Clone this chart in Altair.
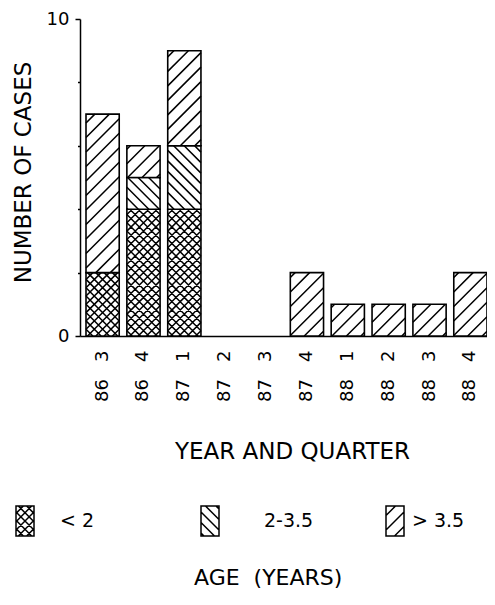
import math
import altair as alt
import pandas as pd

# ---- data ----
quarters = ["86 3", "86 4", "87 1", "87 2", "87 3", "87 4", "88 1", "88 2", "88 3", "88 4"]
age_groups = ["< 2", "2-3.5", "> 3.5"]
under_2 = [2, 4, 4, 0, 0, 0, 0, 0, 0, 0]
age_2_to_35 = [0, 1, 2, 0, 0, 0, 0, 0, 0, 0]
over_35 = [5, 1, 3, 0, 0, 2, 1, 1, 1, 2]
y_max = 10

# ---- layout / style ----
FONT = "DejaVu Sans"
NB = "\u00a0"
PLOT_W, PLOT_H = 407, 317
PAD_IN = 0.187
LEFT_GAP = 6.0
step = (PLOT_W - LEFT_GAP) / (len(quarters) - PAD_IN)
PAD_OUT = (LEFT_GAP / 2) / step
bar_w = step * (1 - PAD_IN)
unit_h = PLOT_H / y_max

# hatch styles: (horizontal period px, direction +1 "/" , -1 "\")
hatch_style = {
    "< 2": [(8.3, 1), (8.3, -1)],
    "2-3.5": [(10.5, -1)],
    "> 3.5": [(14.5, 1)],
}


def hatch_path(w, h, group, R, outline=False):
    parts = []
    for period, d in hatch_style[group]:
        half = (w + h) / 2
        k0 = math.floor(-half / period) - 1
        k1 = math.ceil(half / period) + 1
        for k in range(k0, k1 + 1):
            c = k * period
            lo = max(-w / 2, c - h / 2)
            hi = min(w / 2, c + h / 2)
            if hi - lo < 0.6:
                continue
            if d > 0:
                p1, p2 = (lo, c - lo), (hi, c - hi)
            else:
                p1, p2 = (lo, lo - c), (hi, hi - c)
            parts.append("M%.4f,%.4fL%.4f,%.4f" % (p1[0] / R, p1[1] / R, p2[0] / R, p2[1] / R))
    if outline:
        a, b = w / 2 / R, h / 2 / R
        parts.append("M%.4f,%.4fL%.4f,%.4fL%.4f,%.4fL%.4f,%.4fZ" % (-a, -b, a, -b, a, b, -a, b))
    return "".join(parts)


# ---- derived segment table ----
counts = {"< 2": under_2, "2-3.5": age_2_to_35, "> 3.5": over_35}
rows = []
for i, q in enumerate(quarters):
    base = 0
    for g in age_groups:
        n = counts[g][i]
        if n > 0:
            rows.append({"q": q, "group": g, "y0": base, "y1": base + n,
                         "yc": base + n / 2, "key": "%s|%d" % (g, n), "n": n})
        base += n
seg = pd.DataFrame(rows)

R_CELL = 80
keys = sorted(set(seg["key"]))
cell_paths = []
for k in keys:
    g, n = k.split("|")
    cell_paths.append(hatch_path(bar_w, int(n) * unit_h, g, R_CELL))

x_scale = alt.Scale(domain=quarters, paddingInner=PAD_IN, paddingOuter=PAD_OUT, align=1)

x_enc = alt.X(
    "q:N", sort=quarters, scale=x_scale,
    axis=alt.Axis(
        title="YEAR AND QUARTER", labelAngle=-90, labelAlign="right", labelBaseline="middle",
        labelExpr="replace(datum.label, ' ', '%s')" % (NB * 3),
        labelPadding=14, ticks=False, tickSize=0, domainColor="black", domainWidth=1.5,
        labelFontSize=18, labelColor="black", titleFontSize=23, titleFontWeight="normal",
        titleColor="black", titlePadding=39, titleX=212, labelFont=FONT, titleFont=FONT,
    ),
)

y_axis = alt.Axis(
    title="NUMBER OF CASES", values=list(range(0, y_max + 1)),
    labelExpr="datum.value % 5 === 0 ? datum.label : ''",
    tickSize={"condition": {"test": "datum.value % 5 === 0", "value": 5}, "value": 2.5},
    tickColor="black", tickWidth=1.5, domainColor="black", domainWidth=1.5, grid=False,
    labelFlush=False, labelFontSize=18, labelColor="black", labelPadding=6,
    titleFontSize=23, titleFontWeight="normal", titleColor="black", titlePadding=11,
    titleY=153, labelFont=FONT, titleFont=FONT,
)

bars = alt.Chart(seg).mark_bar(fill="white", stroke="black", strokeWidth=1.6, opacity=1).encode(
    x=x_enc,
    y=alt.Y("y1:Q", scale=alt.Scale(domain=[0, y_max], nice=False), axis=y_axis),
    y2="y0:Q",
)

hatch = alt.Chart(seg).mark_point(
    filled=False, color="black", strokeWidth=1.5, size=(2 * R_CELL) ** 2, opacity=1
).encode(
    x=alt.X("q:N", sort=quarters, scale=x_scale),
    y=alt.Y("yc:Q"),
    shape=alt.Shape("key:N", scale=alt.Scale(domain=keys, range=cell_paths), legend=None),
)

# ---- legend: one single-entry legend per age group, placed as in the reference ----
R_LEG = 15
legend_x = [-71, 114, 299]
legend_label_offset = [19, 38, 1]
legend_layers = []
for i, g in enumerate(age_groups):
    if i == 1:
        extra = dict(
            title="AGE" + NB * 2 + "(YEARS)", titleOrient="bottom", titleAnchor="start",
            titleFontSize=22, titleFontWeight="normal", titleColor="black", titleFont=FONT,
            titlePadding=29,
        )
    else:
        extra = dict(title=None)
    leg = alt.Legend(
        orient="none", legendX=legend_x[i], legendY=486, direction="horizontal",
        symbolSize=900, symbolStrokeWidth=1.5, symbolStrokeColor="black",
        labelFontSize=19, labelOffset=legend_label_offset[i], labelColor="black",
        labelFont=FONT, padding=0, **extra,
    )
    layer = alt.Chart(pd.DataFrame({"age": [g]})).transform_filter("false").mark_point(
        filled=False, color="black", strokeWidth=1.5, opacity=1
    ).encode(
        shape=alt.Shape(
            "age:N",
            scale=alt.Scale(domain=[g], range=[hatch_path(18, 30, g, R_LEG, outline=True)]),
            legend=leg,
        )
    )
    legend_layers.append(layer)

chart = (
    alt.layer(bars, hatch, *legend_layers)
    .resolve_scale(shape="independent")
    .properties(
        width=PLOT_W, height=PLOT_H,
        autosize=alt.AutoSizeParams(type="none"),
        padding={"left": 72, "top": 11, "right": 0, "bottom": 255},
        background="white",
    )
    .configure(font=FONT)
    .configure_view(stroke=None)
)

chart.save("out.html", embed_options={"renderer": "svg", "actions": False})
